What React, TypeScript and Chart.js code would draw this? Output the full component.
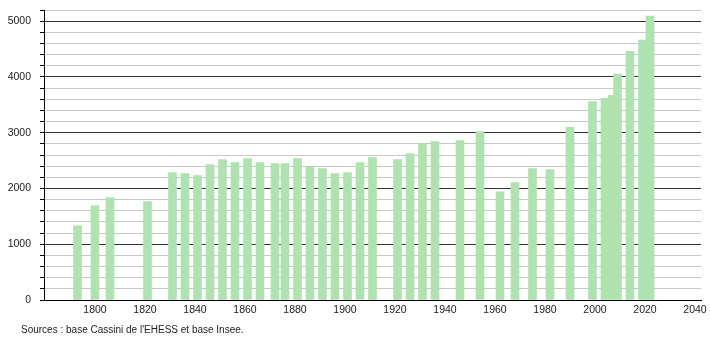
import React, { useEffect, useRef } from "react";
import { Chart, registerables } from "chart.js";

Chart.register(...registerables);

const years = [
  1793, 1800, 1806, 1821, 1831, 1836, 1841, 1846, 1851, 1856, 1861, 1866, 1872,
  1876, 1881, 1886, 1891, 1896, 1901, 1906, 1911, 1921, 1926, 1931, 1936, 1946,
  1954, 1962, 1968, 1975, 1982, 1990, 1999, 2004, 2007, 2009, 2014, 2019, 2022,
];
const population = [
  1330, 1690, 1835, 1765, 2285, 2265, 2230, 2430, 2520, 2465, 2535, 2465, 2445,
  2445, 2535, 2385, 2355, 2265, 2285, 2465, 2555, 2520, 2625, 2805, 2840, 2860,
  3020, 1940, 2105, 2355, 2340, 3095, 3560, 3615, 3670, 4050, 4460, 4660, 5090,
];
const sourceText = "Sources : base Cassini de l'EHESS et base Insee.";

const FONT = "'Liberation Sans', Arial, sans-serif";

export default function App() {
  const canvasRef = useRef<HTMLCanvasElement | null>(null);

  useEffect(() => {
    const canvas = canvasRef.current;
    if (!canvas) return;
    const chart = new Chart(canvas, {
      type: "bar",
      data: {
        datasets: [
          {
            data: years.map((y, i) => ({ x: y, y: population[i] })),
            backgroundColor: "rgb(174,226,174)",
            borderWidth: 0,
            barThickness: 8,
          },
        ],
      },
      options: {
        animation: false,
        responsive: false,
        maintainAspectRatio: false,
        layout: { padding: { left: 0, right: 9, top: 10, bottom: 0 } },
        plugins: {
          legend: { display: false },
          tooltip: { enabled: false },
        },
        scales: {
          x: {
            type: "linear",
            offset: false,
            min: 1779.6,
            max: 2042.4,
            grid: { display: false },
            border: { display: true, color: "#000", width: 1 },
            ticks: {
              stepSize: 20,
              includeBounds: false,
              autoSkip: false,
              maxRotation: 0,
              padding: -4,
              color: "#222",
              font: { family: FONT, size: 10.5 },
              callback: (v: any) => (Number(v) >= 1800 ? String(v) : ""),
            },
            afterFit: (s: any) => {
              s.height = 40;
              s.paddingLeft = 0;
              s.paddingRight = 0;
            },
          },
          y: {
            type: "linear",
            min: 0,
            max: 5200,
            grid: {
              color: (ctx: any) =>
                ctx.tick && ctx.tick.value % 1000 === 0 ? "#333" : "#c8c8c8",
              tickColor: "#000",
              tickLength: 4,
              lineWidth: 1,
            },
            border: { display: true, color: "#000", width: 1 },
            ticks: {
              stepSize: 200,
              autoSkip: false,
              padding: 9,
              color: "#222",
              font: { family: FONT, size: 10.5 },
              callback: (v: any) => (Number(v) % 1000 === 0 ? String(v) : ""),
            },
            afterFit: (s: any) => {
              s.width = 44;
              s.paddingTop = 0;
              s.paddingBottom = 0;
            },
          },
        },
      },
    });
    return () => chart.destroy();
  }, []);

  return (
    <div
      style={{
        position: "fixed",
        left: 0,
        top: 0,
        width: 710,
        height: 340,
        background: "#fff",
      }}
    >
      <canvas ref={canvasRef} width={710} height={340} style={{ display: "block" }} />
      <div
        style={{
          position: "absolute",
          left: 21,
          top: 323,
          fontFamily: FONT,
          fontSize: 10,
          color: "#222",
          whiteSpace: "nowrap",
          lineHeight: "14px",
        }}
      >
        {sourceText}
      </div>
    </div>
  );
}
